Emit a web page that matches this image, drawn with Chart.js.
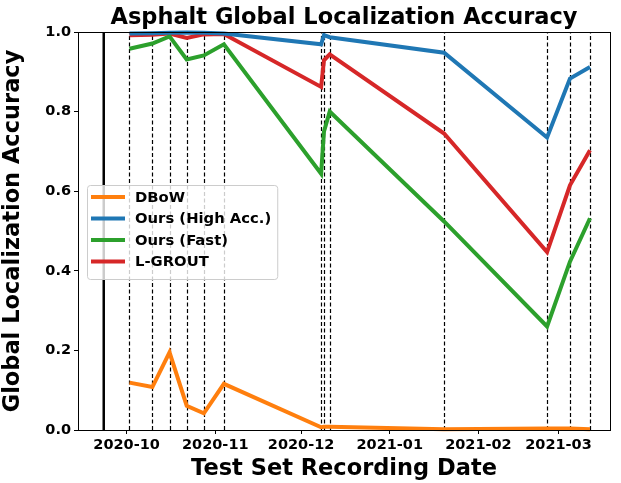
<!DOCTYPE html>
<html>
<head>
<meta charset="utf-8">
<script src="https://cdn.jsdelivr.net/npm/chart.js@4.4.1/dist/chart.umd.min.js"></script>
<style>
  html, body { margin: 0; padding: 0; background: #fff; }
  #wrap { width: 621px; height: 483px; }
</style>
</head>
<body>
<div id="wrap"><canvas id="chart" width="621" height="483"></canvas></div>
<script>
// Test set recording dates (one dashed line per date)
const testDates = ['2020-10-02', '2020-10-10', '2020-10-16', '2020-10-22', '2020-10-28', '2020-11-04',
    '2020-12-08', '2020-12-09', '2020-12-11', '2021-01-20', '2021-02-25', '2021-03-05', '2021-03-12'];
const trainDate = '2020-09-23'; // solid black line
const monthTicks = ['2020-10-01', '2020-11-01', '2020-12-01', '2021-01-01', '2021-02-01', '2021-03-01'];
const xMin = '2020-09-14';
const xMax = '2021-03-19';

// Series values
const dbow   = [0.119, 0.108, 0.195, 0.061, 0.042, 0.116, 0.007, 0.008, 0.008, 0.002, 0.004, 0.004, 0.002];
const high   = [0.996, 0.997, 0.998, 0.999, 0.998, 0.996, 0.969, 0.992, 0.987, 0.948, 0.735, 0.883, 0.912];
const fast   = [0.958, 0.971, 0.989, 0.931, 0.941, 0.969, 0.644, 0.750, 0.800, 0.524, 0.260, 0.423, 0.532];
const lgrout = [0.992, 0.993, 0.996, 0.985, 0.994, 0.995, 0.862, 0.929, 0.944, 0.745, 0.447, 0.615, 0.703];

const seriesNames = ['DBoW', 'Ours (High Acc.)', 'Ours (Fast)', 'L-GROUT'];
const seriesColors = ['#ff7f0e', '#1f77b4', '#2ca02c', '#d62728'];
const titleText = 'Asphalt Global Localization Accuracy';

const FONT = "'DejaVu Sans', sans-serif";
const t = s => Date.parse(s + 'T00:00:00Z');

function toPoints(values) {
    return values.map((v, i) => ({ x: t(testDates[i]), y: v }));
}

// Dashed test-date lines + solid training line, box frame and title over the plot
const markerLines = {
    id: 'markerLines',
    beforeDatasetsDraw(chart) {
        const { ctx, chartArea: a, scales: { x } } = chart;
        ctx.save();
        ctx.strokeStyle = '#000';
        ctx.lineWidth = 1.2;
        ctx.setLineDash([4, 2.5]);
        testDates.forEach(d => {
            const px = Math.round(x.getPixelForValue(t(d))) + 0.5;
            ctx.beginPath();
            ctx.moveTo(px, a.bottom);
            ctx.lineTo(px, a.top);
            ctx.stroke();
        });
        ctx.setLineDash([]);
        ctx.lineWidth = 2.5;
        const tx = x.getPixelForValue(t(trainDate));
        ctx.beginPath();
        ctx.moveTo(tx, a.bottom);
        ctx.lineTo(tx, a.top);
        ctx.stroke();
        ctx.restore();
    },
    afterDraw(chart) {
        const { ctx, chartArea: a } = chart;
        ctx.save();
        ctx.strokeStyle = '#000';
        ctx.lineWidth = 1;
        ctx.strokeRect(Math.round(a.left) + 0.5, Math.round(a.top) + 0.5,
            Math.round(a.right - a.left), Math.round(a.bottom - a.top));
        ctx.fillStyle = '#000';
        ctx.font = 'bold 22.5px ' + FONT;
        ctx.textAlign = 'center';
        ctx.textBaseline = 'alphabetic';
        ctx.fillText(titleText, (a.left + a.right) / 2, a.top - 8);
        ctx.restore();
    }
};

// Matplotlib-like legend inside the plot
const boxLegend = {
    id: 'boxLegend',
    afterDraw(chart) {
        const { ctx, chartArea: a } = chart;
        const left = a.left + 9, top = a.top + 153;
        const rowH = 21.5;
        ctx.save();
        ctx.font = 'bold 14.8px ' + FONT;
        let maxW = 0;
        seriesNames.forEach(n => { maxW = Math.max(maxW, ctx.measureText(n).width); });
        const w = 48 + maxW + 6, h = rowH * seriesNames.length + 8;
        ctx.beginPath();
        ctx.roundRect(left + 0.5, top + 0.5, w, h, 3);
        ctx.fillStyle = 'rgba(255,255,255,0.8)';
        ctx.fill();
        ctx.strokeStyle = '#cccccc';
        ctx.lineWidth = 1;
        ctx.stroke();
        ctx.textBaseline = 'middle';
        seriesNames.forEach((n, i) => {
            const cy = top + 12 + i * rowH;
            ctx.strokeStyle = seriesColors[i];
            ctx.lineWidth = 4;
            ctx.beginPath();
            ctx.moveTo(left + 4, cy);
            ctx.lineTo(left + 38, cy);
            ctx.stroke();
            ctx.fillStyle = '#000';
            ctx.fillText(n, left + 48, cy + 1);
        });
        ctx.restore();
    }
};

const datasets = [dbow, high, fast, lgrout].map((vals, i) => ({
    label: seriesNames[i],
    data: toPoints(vals),
    borderColor: seriesColors[i],
    backgroundColor: seriesColors[i],
    borderWidth: 4,
    pointRadius: 0,
    tension: 0,
    clip: false
}));

new Chart(document.getElementById('chart'), {
    type: 'line',
    data: { datasets },
    options: {
        responsive: false,
        animation: false,
        layout: { padding: { top: 32, right: 11, left: 0, bottom: 0 } },
        plugins: {
            legend: { display: false },
            tooltip: { enabled: false },
            title: { display: false }
        },
        scales: {
            x: {
                type: 'linear',
                min: t(xMin),
                max: t(xMax),
                afterBuildTicks(scale) {
                    scale.ticks = monthTicks.map(m => ({ value: t(m) }));
                },
                afterFit(scale) { scale.height = 53; },
                grid: { drawOnChartArea: false, color: '#000', tickLength: 4, tickWidth: 1 },
                border: { color: '#000' },
                ticks: {
                    color: '#000',
                    font: { family: FONT, size: 14.5, weight: 'bold' },
                    padding: 3,
                    maxRotation: 0,
                    autoSkip: false,
                    callback: v => {
                        const d = new Date(v);
                        return d.getUTCFullYear() + '-' + String(d.getUTCMonth() + 1).padStart(2, '0');
                    }
                },
                title: {
                    display: true,
                    text: 'Test Set Recording Date',
                    color: '#000',
                    font: { family: FONT, size: 22.5, weight: 'bold' },
                    padding: { top: 0, bottom: 0 }
                }
            },
            y: {
                min: 0,
                max: 1,
                afterFit(scale) { scale.width = 78; },
                grid: { drawOnChartArea: false, color: '#000', tickLength: 4, tickWidth: 1 },
                border: { color: '#000' },
                ticks: {
                    color: '#000',
                    stepSize: 0.2,
                    font: { family: FONT, size: 14.5, weight: 'bold' },
                    padding: 3,
                    callback: v => v.toFixed(1)
                },
                title: {
                    display: true,
                    text: 'Global Localization Accuracy',
                    color: '#000',
                    font: { family: FONT, size: 22.5, weight: 'bold' },
                    padding: { top: 0, bottom: 4 }
                }
            }
        }
    },
    plugins: [markerLines, boxLegend]
});
</script>
</body>
</html>
